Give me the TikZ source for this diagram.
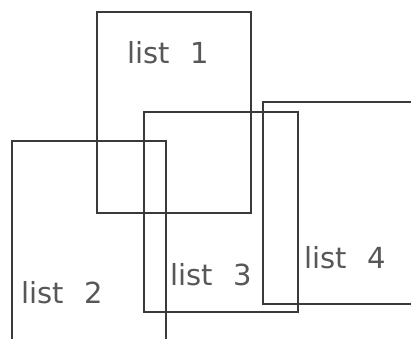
\documentclass[tikz,border=0pt]{standalone}
\usepackage{fontspec}
\setmainfont{DejaVu Sans}
\usepackage{tikz}
\definecolor{pen}{HTML}{3A3A3A}
\tikzset{sc/.style={x=1pt,y=-1pt,line width=1.1pt,draw=pen},
  lbl/.style={anchor=base west,inner sep=0pt,text=pen!85,font=\fontsize{29}{29}\selectfont}}

\begin{document}
\begin{tikzpicture}[sc]
  \useasboundingbox (0,0) rectangle (411,338);
  \clip (0,0) rectangle (411,338);
  % the four list boxes
  \draw[pen] (97,12) rectangle (251,213);
  \draw[pen] (12,141) rectangle (166,360);
  \draw[pen] (144,112) rectangle (298,312);
  \draw[pen] (263,102) rectangle (430,304);
  \node[lbl] (l1) at (127,63){list\hspace{20pt}1};
  \node[lbl] (l2) at (21,303){list\hspace{20pt}2};
  \node[lbl] (l3) at (170,285){list\hspace{20pt}3};
  \node[lbl] (l4) at (304,268){list\hspace{20pt}4};
\end{tikzpicture}
\end{document}
